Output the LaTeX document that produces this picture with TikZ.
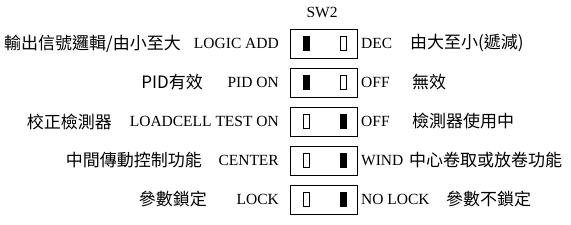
\documentclass[tikz,border=0pt]{standalone}
\usepackage{fontspec}
\setmainfont{Liberation Serif}
\newfontfamily\cjkfont{Noto Sans CJK TC}
\begin{document}
\begin{tikzpicture}[x=1pt, y=-1pt,
    switchBox/.style={draw, line width=0.8pt, minimum width=67pt, minimum height=29pt, inner sep=0pt},
    leverOn/.style={fill=black, minimum width=7pt, minimum height=15pt, inner sep=0pt},
    leverOff/.style={draw, line width=0.6pt, minimum width=6pt, minimum height=14pt, inner sep=0pt},
    latinText/.style={font=\fontsize{15.5}{18}\selectfont, inner sep=0pt},
    cjkText/.style={font=\cjkfont\fontsize{17}{19}\selectfont, inner sep=0pt}]

    \def\leftEdge{279}
    \def\rightEdge{361}

    \useasboundingbox (0,0) rectangle (571,225);

    % Title of the switch block
    \node[latinText] (title) at (322,12) {SW2};

    % Switch boxes: row / y / filled lever x / hollow lever x
    \foreach \n/\y/\onx/\offx in {1/43.5/306/343, 2/82.5/306/343, 3/121.5/343/306, 4/160.5/343/306, 5/199.5/343/306} {
        \node[switchBox] (sw\n) at (324,\y) {};
        \node[leverOn] (on\n) at (\onx,\y) {};
        \node[leverOff] (off\n) at (\offx,\y) {};
    }

    % Row 1: logic
    \node[latinText, anchor=east] (logicL) at (\leftEdge,43.5) {LOGIC ADD};
    \node[cjkText, anchor=east] (logicLC) at (181,43.5) {輸出信號邏輯/由小至大};
    \node[latinText, anchor=west] (logicR) at (\rightEdge,43.5) {DEC};
    \node[cjkText, anchor=west] (logicRC) at (410,43.5) {由大至小(遞減)};

    % Row 2: PID
    \node[latinText, anchor=east] (pidL) at (\leftEdge,82.5) {PID ON};
    \node[cjkText, anchor=east] (pidLC) at (203,82.5) {PID有效};
    \node[latinText, anchor=west] (pidR) at (\rightEdge,82.5) {OFF};
    \node[cjkText, anchor=west] (pidRC) at (412,82.5) {無效};

    % Row 3: loadcell test
    \node[latinText, anchor=east] (testL) at (\leftEdge,121.5) {LOADCELL TEST ON};
    \node[cjkText, anchor=east] (testLC) at (112,121.5) {校正檢測器};
    \node[latinText, anchor=west] (testR) at (\rightEdge,121.5) {OFF};
    \node[cjkText, anchor=west] (testRC) at (412,121.5) {檢測器使用中};

    % Row 4: center / wind
    \node[latinText, anchor=east] (centerL) at (\leftEdge,160.5) {CENTER};
    \node[cjkText, anchor=east] (centerLC) at (202,160.5) {中間傳動控制功能};
    \node[latinText, anchor=west] (centerR) at (\rightEdge,160.5) {WIND};
    \node[cjkText, anchor=west] (centerRC) at (409,160.5) {中心卷取或放卷功能};

    % Row 5: lock
    \node[latinText, anchor=east] (lockL) at (\leftEdge,199.5) {LOCK};
    \node[cjkText, anchor=east] (lockLC) at (207,199.5) {參數鎖定};
    \node[latinText, anchor=west] (lockR) at (\rightEdge,199.5) {NO LOCK};
    \node[cjkText, anchor=west] (lockRC) at (446,199.5) {參數不鎖定};

\end{tikzpicture}
\end{document}
